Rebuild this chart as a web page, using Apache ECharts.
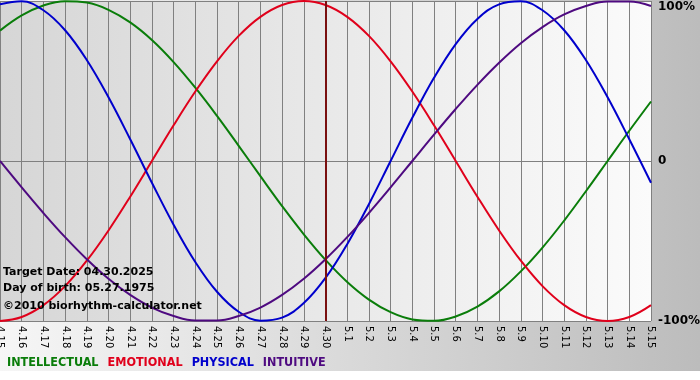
<!DOCTYPE html>
<html>
<head>
<meta charset="utf-8">
<script src="https://cdn.jsdelivr.net/npm/echarts@6/dist/echarts.min.js"></script>
<style>
  html, body { margin: 0; padding: 0; background: #fff; }
  #chart { width: 700px; height: 380px; }
</style>
</head>
<body>
<div id="chart"></div>
<script>
const days = [
  '4.15', '4.16', '4.17', '4.18', '4.19', '4.20', '4.21', '4.22', '4.23', '4.24',
  '4.25', '4.26', '4.27', '4.28', '4.29', '4.30', '5.1', '5.2', '5.3', '5.4',
  '5.5', '5.6', '5.7', '5.8', '5.9', '5.10', '5.11', '5.12', '5.13', '5.14', '5.15'
];

const intellectual = [
  0.815, 0.910, 0.972, 0.999, 0.990, 0.945, 0.866, 0.756, 0.618, 0.458,
  0.282, 0.095, -0.095, -0.282, -0.458, -0.618, -0.756, -0.866, -0.945, -0.990,
  -0.999, -0.972, -0.910, -0.815, -0.690, -0.541, -0.372, -0.189, 0.000, 0.189, 0.372
];
const emotional = [
  -1.000, -0.975, -0.901, -0.782, -0.623, -0.434, -0.223, 0.000, 0.223, 0.434,
  0.623, 0.782, 0.901, 0.975, 1.000, 0.975, 0.901, 0.782, 0.623, 0.434,
  0.223, 0.000, -0.223, -0.434, -0.623, -0.782, -0.901, -0.975, -1.000, -0.975, -0.901
];
const physical = [
  0.979, 0.998, 0.942, 0.817, 0.631, 0.398, 0.136, -0.136, -0.398, -0.631,
  -0.817, -0.942, -0.998, -0.979, -0.888, -0.731, -0.520, -0.270, 0.000, 0.270,
  0.520, 0.731, 0.888, 0.979, 0.998, 0.942, 0.817, 0.631, 0.398, 0.136, -0.136
];
const intuitive = [
  0.000, -0.165, -0.325, -0.476, -0.614, -0.736, -0.837, -0.916, -0.969, -0.997,
  -0.997, -0.969, -0.916, -0.837, -0.736, -0.614, -0.476, -0.325, -0.165, 0.000,
  0.165, 0.325, 0.476, 0.614, 0.736, 0.837, 0.916, 0.969, 0.997, 0.997, 0.969
];

const targetDay = '4.30';
const infoLines = ['Target Date: 04.30.2025', 'Day of birth: 05.27.1975'];
const copyright = '©2010 biorhythm-calculator.net';

const seriesNames = ['INTELLECTUAL', 'EMOTIONAL', 'PHYSICAL', 'INTUITIVE'];
const seriesColors = ['#0a7d0a', '#e0001b', '#0000cc', '#4e0a80'];
const seriesData = [intellectual, emotional, physical, intuitive];

const chart = echarts.init(document.getElementById('chart'));

const font = 'DejaVu Sans, Verdana, sans-serif';

const option = {
  backgroundColor: '#ffffff',
  animation: false,
  graphic: [
    {
      type: 'rect',
      z: -10,
      silent: true,
      shape: { x: 0, y: 0, width: 700, height: 371 },
      style: {
        fill: new echarts.graphic.LinearGradient(0, 0, 1, 0, [
          { offset: 0, color: '#f6f6f6' },
          { offset: 1, color: '#bcbcbc' }
        ])
      }
    },
    {
      type: 'text',
      left: 3,
      top: 264,
      z: 10,
      style: {
        text: infoLines.join('\n'),
        font: 'bold 11px ' + font,
        lineHeight: 16,
        fill: '#000'
      }
    },
    {
      type: 'text',
      left: 3,
      top: 301,
      z: 10,
      style: {
        text: copyright,
        font: 'bold 11px ' + font,
        fill: '#000'
      }
    }
  ],
  legend: {
    left: -3,
    top: 351,
    icon: 'rect',
    itemWidth: 0,
    itemHeight: 0,
    itemGap: 4,
    selectedMode: false,
    data: seriesNames.map((name, i) => ({
      name,
      textStyle: {
        color: seriesColors[i],
        fontWeight: 'bold',
        fontSize: 12.5,
        fontFamily: 'DejaVu Sans Condensed, DejaVu Sans, sans-serif'
      }
    }))
  },
  grid: {
    left: 0,
    top: 1,
    width: 651,
    height: 320,
    outerBoundsMode: 'none',
    show: true,
    borderWidth: 0,
    backgroundColor: new echarts.graphic.LinearGradient(0, 0, 1, 0, [
      { offset: 0, color: '#d6d6d6' },
      { offset: 1, color: '#fbfbfb' }
    ])
  },
  xAxis: {
    type: 'category',
    data: days,
    boundaryGap: false,
    axisLine: { lineStyle: { color: '#808080', width: 1 } },
    axisTick: { show: true, length: 4, lineStyle: { color: '#808080' } },
    axisLabel: {
      rotate: -90,
      interval: 0,
      color: '#000',
      fontSize: 10,
      fontFamily: font,
      margin: 5
    },
    splitLine: { show: true, lineStyle: { color: '#808080', width: 1 } }
  },
  yAxis: {
    type: 'value',
    position: 'right',
    min: -1,
    max: 1,
    interval: 1,
    axisLine: { show: false },
    axisTick: { show: false },
    axisLabel: {
      color: '#000',
      fontWeight: 'bold',
      fontSize: 12,
      fontFamily: font,
      margin: 7,
      verticalAlignMaxLabel: 'top',
      formatter: v => (v === 0 ? '0' : Math.round(v * 100) + '%')
    },
    splitLine: { show: true, lineStyle: { color: '#808080', width: 1 } }
  },
  series: seriesNames.map((name, i) => ({
    name,
    type: 'line',
    data: seriesData[i],
    smooth: 0.4,
    symbol: 'none',
    lineStyle: { color: seriesColors[i], width: 2 },
    itemStyle: { color: seriesColors[i] },
    markLine: i === 0 ? {
      silent: true,
      symbol: 'none',
      label: { show: false },
      lineStyle: { color: '#7a1010', width: 2, type: 'solid' },
      data: [{ xAxis: targetDay }]
    } : undefined
  }))
};

chart.setOption(option);
</script>
</body>
</html>
